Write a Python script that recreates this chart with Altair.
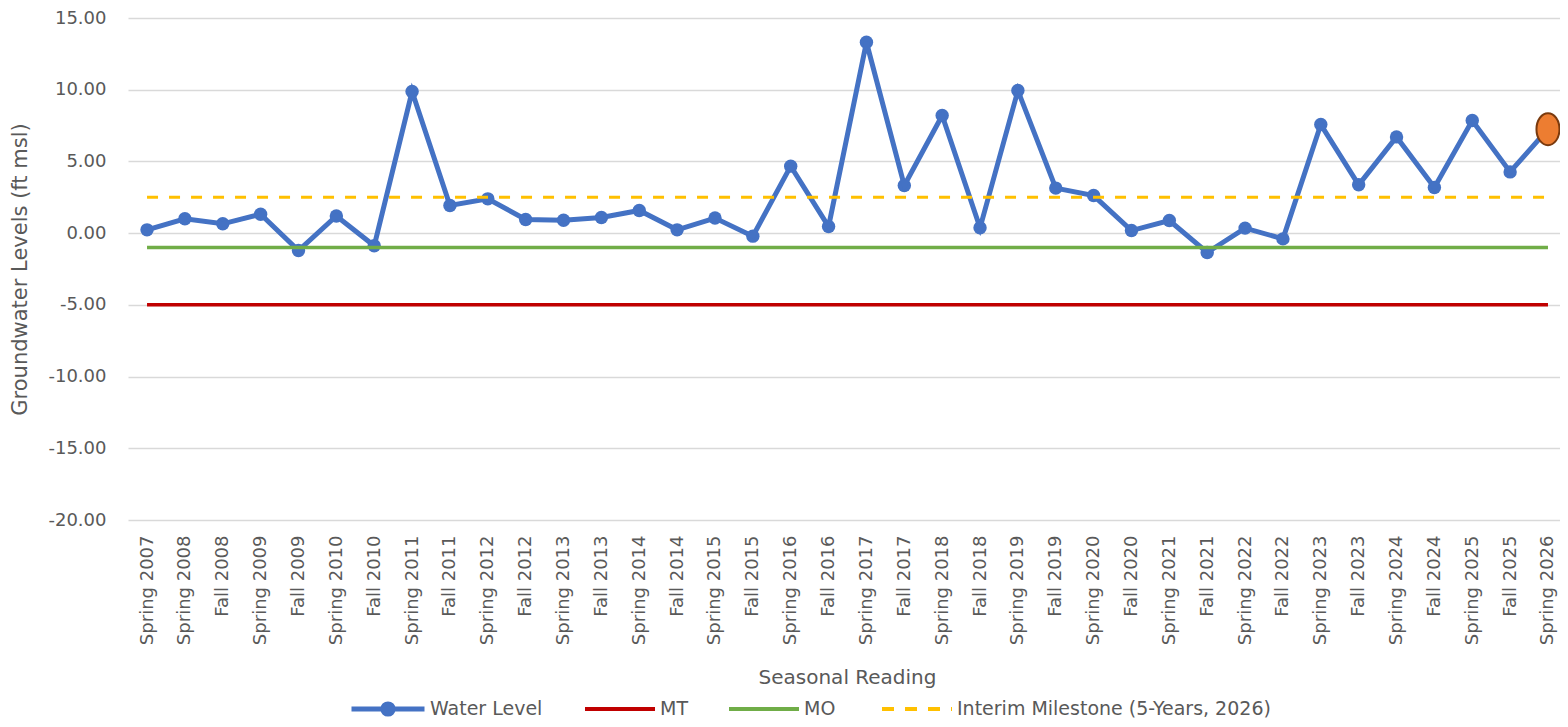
import altair as alt
import pandas as pd

categories = [
    "Spring 2007", "Spring 2008", "Fall 2008", "Spring 2009", "Fall 2009",
    "Spring 2010", "Fall 2010", "Spring 2011", "Fall 2011", "Spring 2012",
    "Fall 2012", "Spring 2013", "Fall 2013", "Spring 2014", "Fall 2014",
    "Spring 2015", "Fall 2015", "Spring 2016", "Fall 2016", "Spring 2017",
    "Fall 2017", "Spring 2018", "Fall 2018", "Spring 2019", "Fall 2019",
    "Spring 2020", "Fall 2020", "Spring 2021", "Fall 2021", "Spring 2022",
    "Fall 2022", "Spring 2023", "Fall 2023", "Spring 2024", "Fall 2024",
    "Spring 2025", "Fall 2025", "Spring 2026",
]
water_level = [
    0.23, 1.00, 0.65, 1.32, -1.21, 1.20, -0.88, 9.87, 1.93, 2.39,
    0.95, 0.90, 1.09, 1.58, 0.23, 1.05, -0.21, 4.67, 0.46, 13.31,
    3.32, 8.20, 0.37, 9.94, 3.14, 2.62, 0.18, 0.88, -1.35, 0.35,
    -0.40, 7.57, 3.37, 6.71, 3.18, 7.85, 4.27, 7.25,
]
mt_value = -5.0
mo_value = -1.0
interim_value = 2.5
latest_reading = "Spring 2026"

water_name = "Water Level"
water_color = "#4472C4"
solid_names = ["MT", "MO"]
solid_values = [mt_value, mo_value]
solid_colors = ["#C00000", "#70AD47"]
interim_name = "Interim Milestone (5-Years, 2026)"
interim_color = "#FFC000"
y_ticks = [-20, -15, -10, -5, 0, 5, 10, 15]

idx = list(range(len(categories)))
water_df = pd.DataFrame({"cat": categories, "value": water_level, "series": water_name, "idx": idx})
solid_rows = []
for i, c in enumerate(categories):
    for s, v in zip(solid_names, solid_values):
        solid_rows.append({"cat": c, "series": s, "value": v, "idx": i})
solid_df = pd.DataFrame(solid_rows)
interim_df = pd.DataFrame({"cat": categories, "value": [interim_value] * len(categories),
                           "series": interim_name, "idx": idx})
latest_df = water_df[water_df["cat"] == latest_reading]

AXFONT = "DejaVu Sans"
TXT = "#595959"

x_enc = alt.X(
    "cat:N", sort=categories,
    scale=alt.Scale(type="point", padding=0.41, align=0.613),
    axis=alt.Axis(
        title="Seasonal Reading", labelAngle=-90, labelFont=AXFONT, labelFontSize=18,
        labelColor=TXT, labelPadding=15, ticks=False, domain=False, grid=False,
        titleFont=AXFONT, titleFontSize=20, titleFontWeight="normal", titleColor=TXT,
        titleX=719, titleY=157, titleBaseline="middle", labelOverlap=False,
    ),
)
y_enc = alt.Y(
    "value:Q",
    scale=alt.Scale(domain=[-20, 15], nice=False, zero=False),
    axis=alt.Axis(
        title="Groundwater Levels (ft msl)", values=y_ticks,
        labelExpr="(datum.value < 0 ? '-' : '') + format(abs(datum.value), '.2f')",
        labelFont=AXFONT, labelFontSize=18, labelColor=TXT, labelPadding=22,
        ticks=False, domain=False, gridColor="#D9D9D9", gridWidth=1.3,
        titleFont=AXFONT, titleFontSize=21, titleFontWeight="normal", titleColor=TXT,
        titleX=-108, titleY=251, titleAngle=-90, titleBaseline="middle", titleAlign="center",
    ),
)

a, b = 0.055, 0.14
water_symbol = (
    "M-1,0L1,0"
    f"M-{a},0A{a},{a},0,1,0,{a},0A{a},{a},0,1,0,-{a},0"
    f"M-{b},0A{b},{b},0,1,0,{b},0A{b},{b},0,1,0,-{b},0"
)
legend_common = dict(
    title=None, orient="none", direction="horizontal",
    labelFont=AXFONT, labelFontSize=19, labelColor=TXT, labelOffset=3, labelLimit=600,
)
water_legend = alt.Legend(
    legendX=221, legendY=652, symbolType=water_symbol, symbolSize=5329,
    symbolStrokeWidth=5, symbolFillColor=water_color, **legend_common,
)
solid_legend = alt.Legend(
    legendX=455, legendY=654, symbolType="stroke", symbolSize=4900,
    symbolStrokeWidth=4, columnPadding=33, **legend_common,
)
interim_legend = alt.Legend(
    legendX=752, legendY=654, symbolType="stroke", symbolSize=4900,
    symbolStrokeWidth=4, symbolDash=[12, 11], **legend_common,
)

points = alt.Chart(water_df).mark_point(filled=True, size=180, opacity=1, color=water_color).encode(
    x=x_enc, y=y_enc
)
water_line = alt.Chart(water_df).mark_line(strokeWidth=5, strokeCap="butt").encode(
    x=x_enc, y=y_enc,
    color=alt.Color("series:N", scale=alt.Scale(domain=[water_name], range=[water_color]),
                    legend=water_legend),
    order=alt.Order("idx:Q"),
)
solid_lines = alt.Chart(solid_df).mark_line(strokeWidth=3.5, strokeCap="butt").encode(
    x=x_enc, y=y_enc,
    color=alt.Color("series:N", scale=alt.Scale(domain=solid_names, range=solid_colors),
                    legend=solid_legend),
    order=alt.Order("idx:Q"),
    detail="series:N",
)
interim_line = alt.Chart(interim_df).mark_line(strokeWidth=3, strokeCap="butt", strokeDash=[11, 11]).encode(
    x=x_enc, y=y_enc,
    color=alt.Color("series:N", scale=alt.Scale(domain=[interim_name], range=[interim_color]),
                    legend=interim_legend),
    order=alt.Order("idx:Q"),
)
ellipse = "M0,-1A0.72,1,0,1,1,0,1A0.72,1,0,1,1,0,-1Z"
latest = alt.Chart(latest_df).mark_point(
    filled=True, shape=ellipse, size=1024, fill="#ED7D31", stroke="#7A3A0E", strokeWidth=2, opacity=1
).encode(x=x_enc, y=y_enc)

chart = alt.layer(points, water_line, solid_lines, interim_line, latest).resolve_scale(
    color="independent"
).properties(
    width=1432, height=502,
    padding={"left": 120, "top": 10, "right": 0, "bottom": 198},
    autosize=alt.AutoSizeParams(type="none"),
).configure_view(stroke=None)

chart.save("out.html", embed_options={"renderer": "svg", "actions": False})
